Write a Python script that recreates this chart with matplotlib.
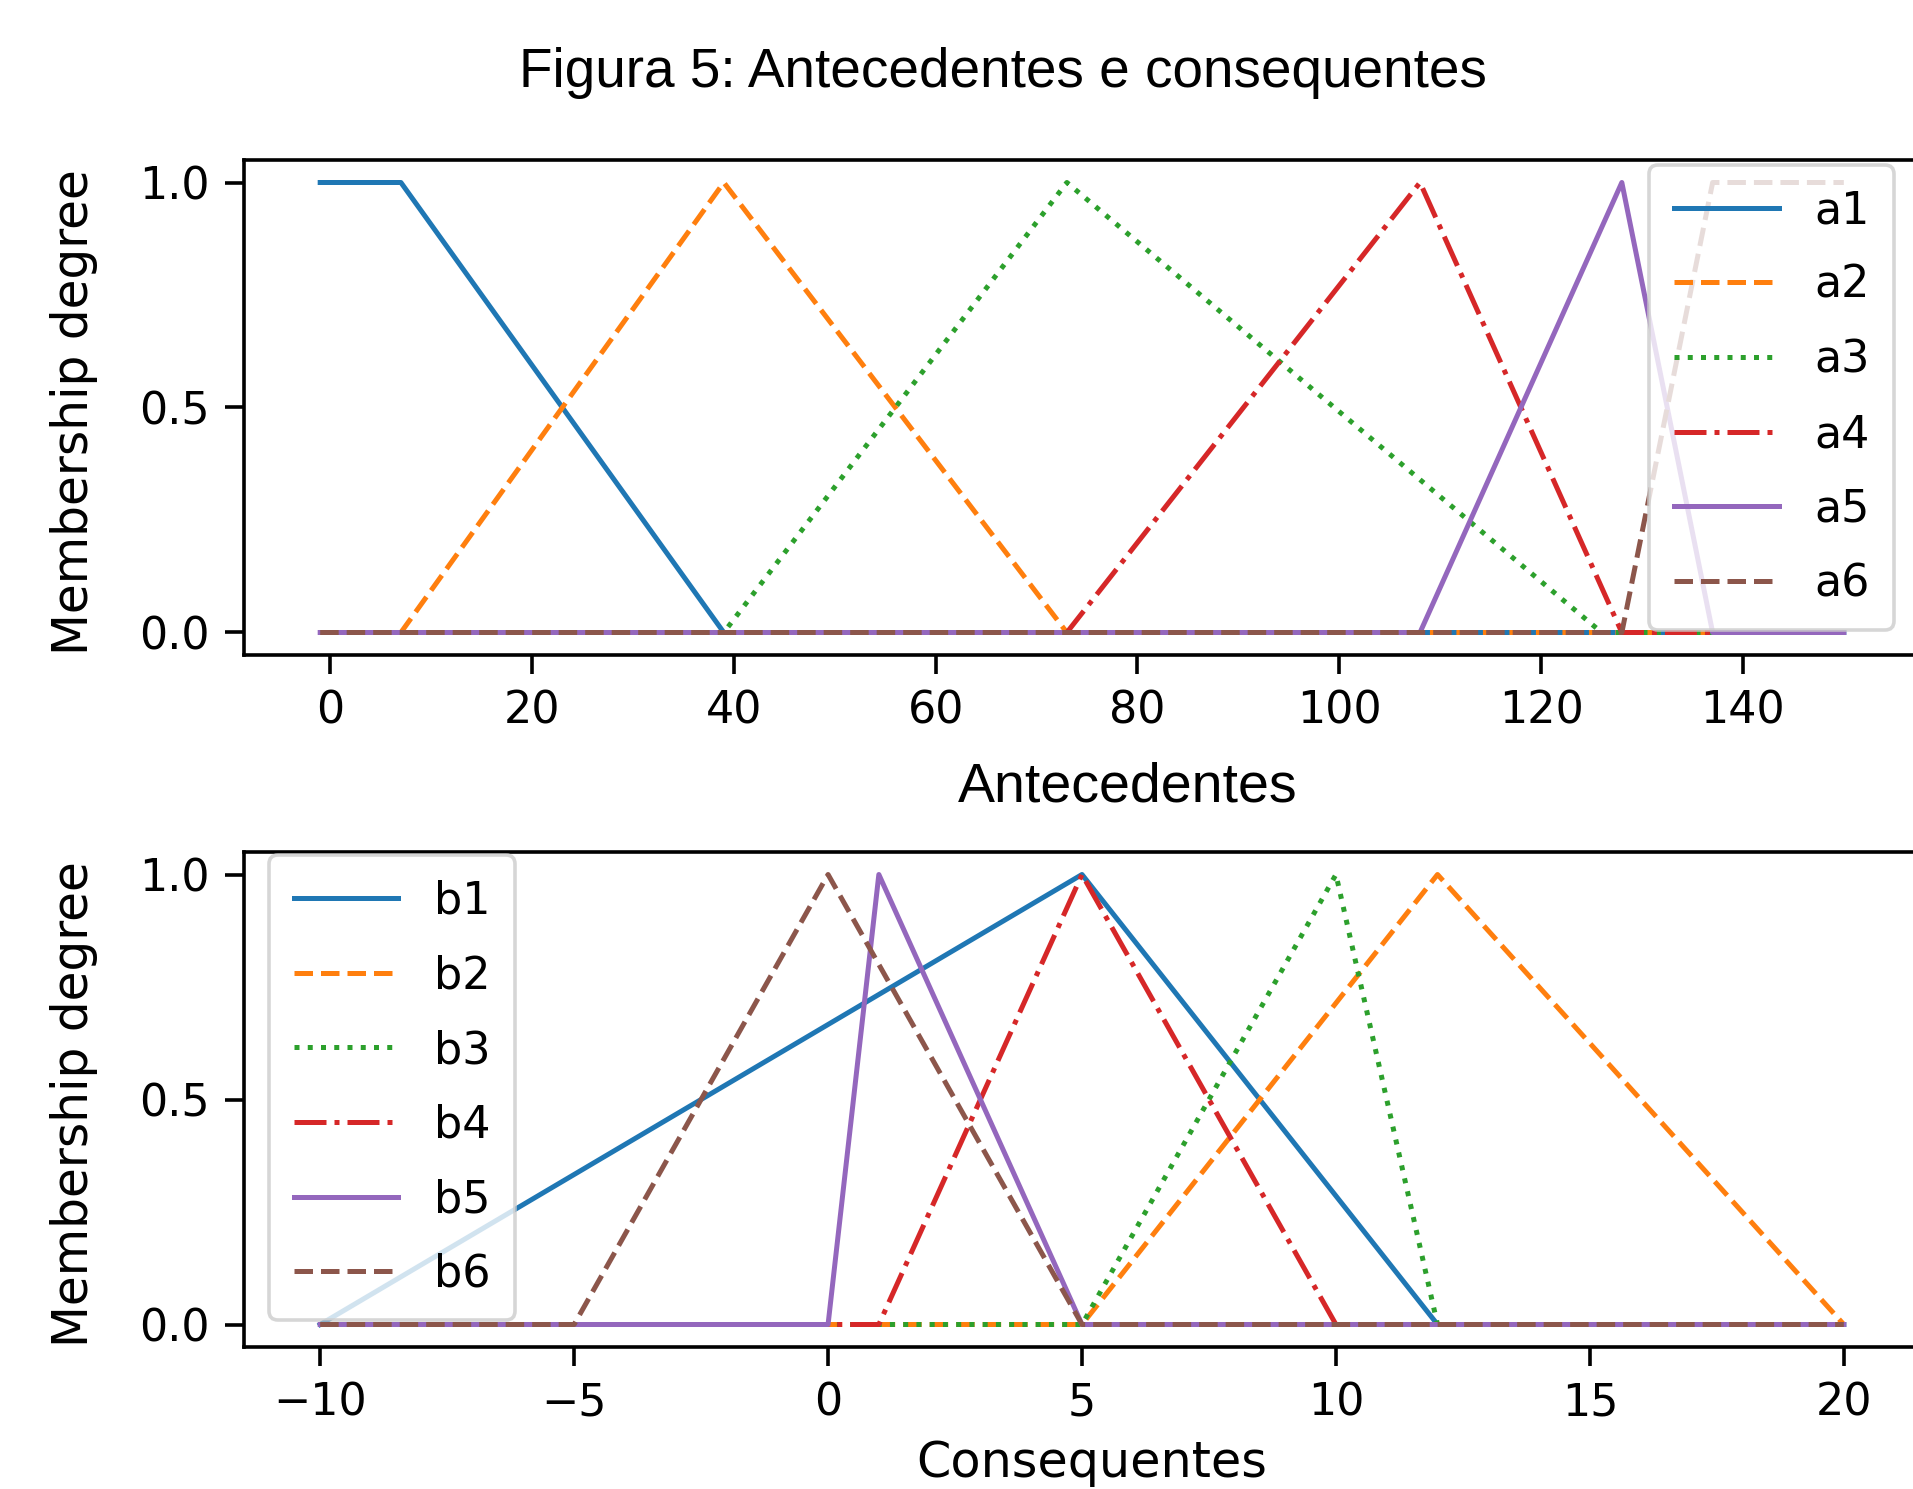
import matplotlib
matplotlib.use('Agg')
import matplotlib.pyplot as plt

plt.rcParams.update({
    "font.family": "DejaVu Sans",
    "axes.linewidth": 2.6,
    "xtick.major.size": 14,
    "ytick.major.size": 14,
    "xtick.major.width": 2.6,
    "ytick.major.width": 2.6,
    "xtick.major.pad": 11,
    "ytick.major.pad": 11,
    "lines.linewidth": 3.6,
    "patch.linewidth": 2.6,
})

# antecedentes: breakpoints (x) and membership values (y)
a_names = ["a1", "a2", "a3", "a4", "a5", "a6"]
a_x = [
    [-1, 7, 39, 150],
    [-1, 7, 39, 73, 150],
    [-1, 39, 73, 126, 150],
    [-1, 73, 108, 128, 150],
    [-1, 108, 128, 137, 150],
    [-1, 128, 137, 150],
]
a_y = [
    [1, 1, 0, 0],
    [0, 0, 1, 0, 0],
    [0, 0, 1, 0, 0],
    [0, 0, 1, 0, 0],
    [0, 0, 1, 0, 0],
    [0, 0, 1, 1],
]

# consequentes
b_names = ["b1", "b2", "b3", "b4", "b5", "b6"]
b_x = [
    [-10, 5, 12, 20],
    [-10, 5, 12, 20],
    [-10, 5, 10, 12, 20],
    [-10, 1, 5, 10, 20],
    [-10, 0, 1, 5, 20],
    [-10, -5, 0, 5, 20],
]
b_y = [
    [0, 1, 0, 0],
    [0, 0, 1, 0],
    [0, 0, 1, 0, 0],
    [0, 0, 1, 0, 0],
    [0, 0, 1, 0, 0],
    [0, 0, 1, 0, 0],
]

styles = ["-", "--", ":", "-.", "-", "--"]
colors = plt.rcParams["axes.prop_cycle"].by_key()["color"]

W, H = 1913, 1489
fig = plt.figure(figsize=(W / 100, H / 100), dpi=100)
left, right = 244 / W, 1920 / W
ax1 = fig.add_axes([left, 1 - 655 / H, right - left, 495 / H])
ax2 = fig.add_axes([left, 1 - 1347 / H, right - left, 495 / H])

for i in range(6):
    ax1.plot(a_x[i], a_y[i], styles[i], color=colors[i], label=a_names[i])
    ax2.plot(b_x[i], b_y[i], styles[i], color=colors[i], label=b_names[i])

for ax in (ax1, ax2):
    ax.set_ylabel("Membership degree", fontsize=35)
    ax.yaxis.set_label_coords(-0.087, 0.49)
    ax.set_yticks([0.0, 0.5, 1.0])
    ax.tick_params(labelsize=32)

ax1.set_xticks([0, 20, 40, 60, 80, 100, 120, 140])
ax2.set_xticks([-10, -5, 0, 5, 10, 15, 20])

# the top caption is set in an Arial-like face, the bottom one in the plot font
ax1.set_xlabel("Antecedentes", fontsize=40, family="Liberation Sans")
ax1.xaxis.set_label_coords(0.527, -0.216)
ax2.set_xlabel("Consequentes", fontsize=35.5)
ax2.xaxis.set_label_coords(0.506, -0.186)

ax1.legend(loc="upper right", bbox_to_anchor=(0.9845, 0.99), borderaxespad=0,
           fontsize=32, handlelength=2.36, labelspacing=0.71, borderpad=0.55)
ax2.legend(loc="upper left", bbox_to_anchor=(0.015, 0.993), borderaxespad=0,
           fontsize=32, handlelength=2.36, labelspacing=0.71, borderpad=0.55)

fig.text(1002.6 / W, 1 - 86.7 / H, "Figura 5: Antecedentes e consequentes",
         ha="center", va="baseline", fontsize=39.5, family="Liberation Sans")

fig.savefig("out.png", dpi=100)
